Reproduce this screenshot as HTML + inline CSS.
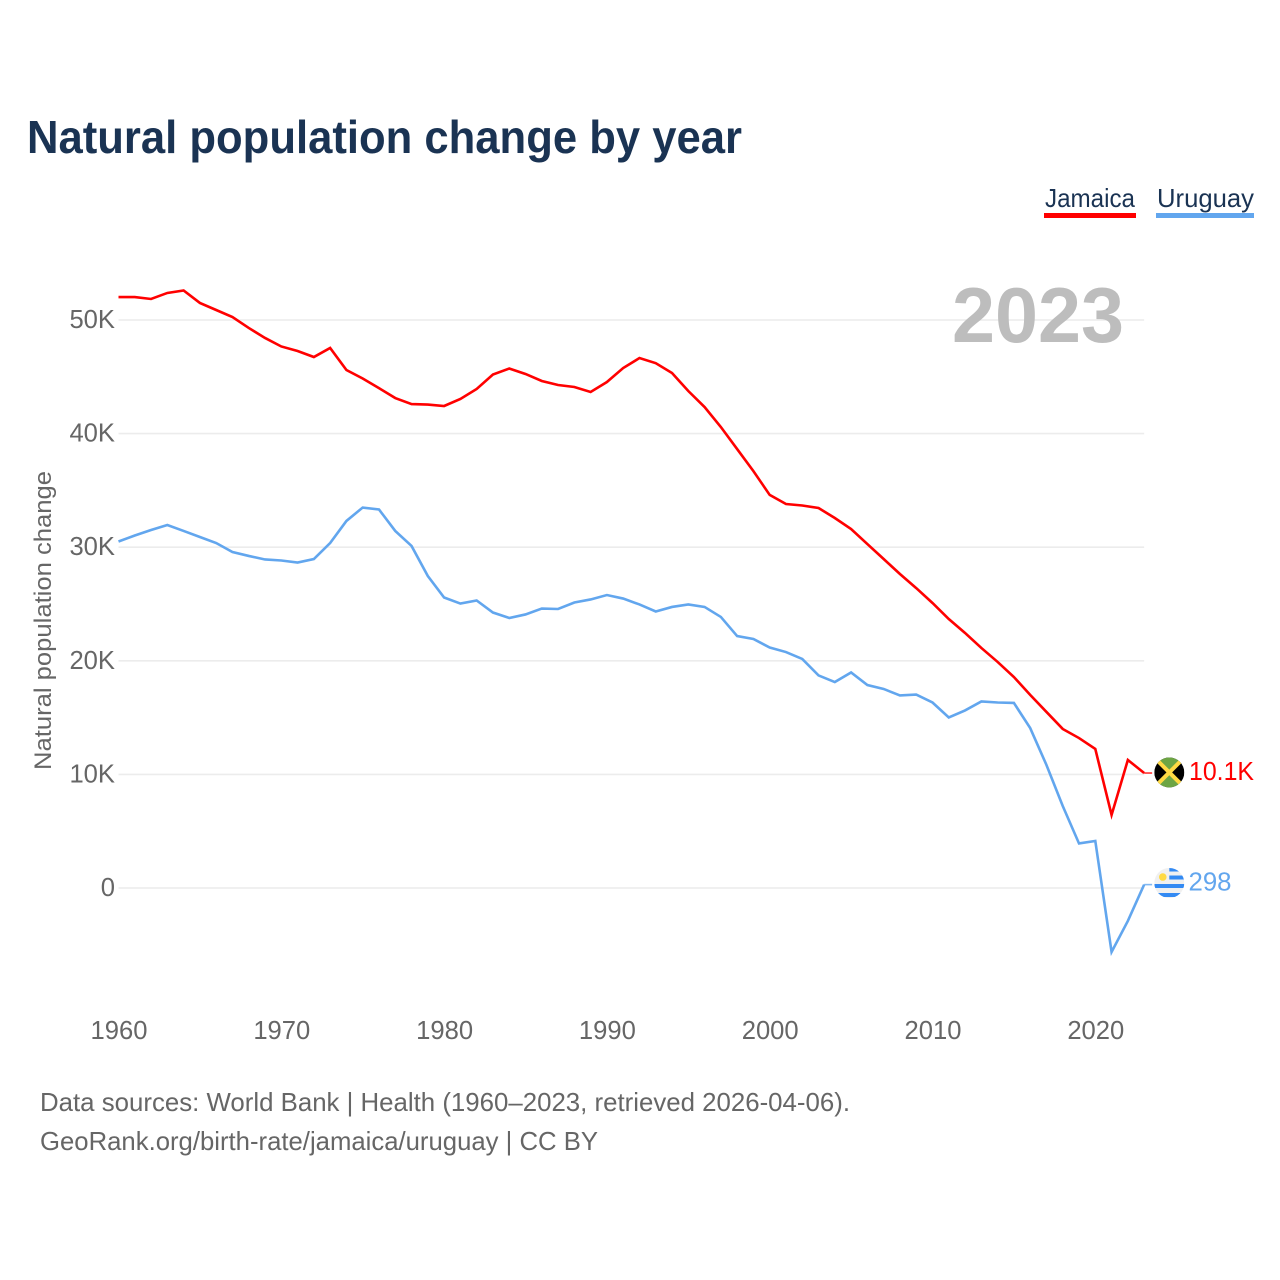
<!DOCTYPE html>
<html lang="en">
<head>
<meta charset="utf-8">
<title>Natural population change by year</title>
<style>
html,body{margin:0;padding:0;background:#fff;width:1280px;height:1280px;overflow:hidden}
svg{display:block}
text{font-family:"Liberation Sans",sans-serif}
.tick{font-size:25.6px;fill:#666}
.foot{font-size:26px;fill:#666}
.leg{font-size:26px;fill:#1a3353}
</style>
</head>
<body>
<svg id="chart" xmlns="http://www.w3.org/2000/svg" width="1280" height="1280" viewBox="0 0 1280 1280">
  <defs>
    <clipPath id="flag-clip"><circle cx="0" cy="0" r="15"/></clipPath>
  </defs>
  <text x="27" y="153" font-size="46" font-weight="700" fill="#1a3353" textLength="715" lengthAdjust="spacingAndGlyphs">Natural population change by year</text>

  <g>
    <g>
      <text class="leg" x="1045" y="207" textLength="90" lengthAdjust="spacingAndGlyphs">Jamaica</text>
      <rect x="1044" y="213" width="92" height="5" fill="#ff0000"/>
    </g>
    <g>
      <text class="leg" x="1157" y="207" textLength="97" lengthAdjust="spacingAndGlyphs">Uruguay</text>
      <rect x="1156" y="213" width="98" height="5" fill="#62a6ee"/>
    </g>
  </g>

  <g id="grid"></g>
  <g id="yticks"></g>
  <g id="xticks"></g>

  <text x="952" y="342" font-size="78" font-weight="700" fill="#bdbdbd" textLength="172" lengthAdjust="spacingAndGlyphs">2023</text>

  <text transform="translate(51,770) rotate(-90)" font-size="24" fill="#666" textLength="299" lengthAdjust="spacingAndGlyphs">Natural population change</text>

  <g id="series"></g>
  <g id="ends"></g>

  <text class="foot" x="40" y="1111" textLength="810" lengthAdjust="spacingAndGlyphs">Data sources: World Bank | Health (1960–2023, retrieved 2026-04-06).</text>
  <text class="foot" x="40" y="1150" textLength="558" lengthAdjust="spacingAndGlyphs">GeoRank.org/birth-rate/jamaica/uruguay | CC BY</text>
</svg>
<script>
const years = [1960,1961,1962,1963,1964,1965,1966,1967,1968,1969,1970,1971,1972,1973,1974,1975,1976,1977,1978,1979,1980,1981,1982,1983,1984,1985,1986,1987,1988,1989,1990,1991,1992,1993,1994,1995,1996,1997,1998,1999,2000,2001,2002,2003,2004,2005,2006,2007,2008,2009,2010,2011,2012,2013,2014,2015,2016,2017,2018,2019,2020,2021,2022,2023];
const jamaicaValues = [52.02,52.02,51.85,52.38,52.6,51.5,50.88,50.26,49.3,48.42,47.67,47.27,46.74,47.54,45.6,44.85,44.0,43.13,42.6,42.56,42.43,43.05,43.93,45.2,45.73,45.25,44.63,44.28,44.1,43.66,44.54,45.77,46.65,46.2,45.33,43.75,42.34,40.58,38.64,36.7,34.6,33.8,33.67,33.45,32.57,31.6,30.28,28.96,27.64,26.4,25.09,23.68,22.45,21.13,19.9,18.57,17.0,15.5,14.0,13.2,12.24,6.43,11.27,10.12];
const uruguayValues = [30.5,31.03,31.51,31.95,31.43,30.9,30.37,29.58,29.23,28.92,28.83,28.65,28.96,30.37,32.31,33.49,33.32,31.43,30.11,27.46,25.57,25.04,25.31,24.25,23.77,24.08,24.6,24.56,25.13,25.4,25.79,25.48,24.96,24.34,24.74,24.96,24.74,23.86,22.18,21.92,21.17,20.77,20.16,18.71,18.13,18.97,17.87,17.52,16.95,17.03,16.33,15.01,15.63,16.42,16.33,16.29,14.08,10.83,7.22,3.92,4.14,-5.63,-2.9,0.298];
const yTickValues = [0,10,20,30,40,50];
const yTickLabels = ["0","10K","20K","30K","40K","50K"];
const xTickValues = [1960,1970,1980,1990,2000,2010,2020];
const jamaicaEndLabel = "10.1K";
const uruguayEndLabel = "298";

const NS = "http://www.w3.org/2000/svg";
function xScale(year){ return 118.5 + (year - 1960) * 16.28; }
function yScale(k){ return 888 - k * 11.36; }
function make(tag, parent, attrs){
  const el = document.createElementNS(NS, tag);
  for (const k in attrs) el.setAttribute(k, attrs[k]);
  parent.appendChild(el);
  return el;
}
const grid = document.getElementById('grid');
const yticks = document.getElementById('yticks');
const xticks = document.getElementById('xticks');
const seriesG = document.getElementById('series');
const ends = document.getElementById('ends');

yTickValues.forEach(function(v, i){
  const line = make('line', grid, {x1:xScale(1960), x2:xScale(2023), y1:yScale(v), y2:yScale(v), stroke:'#ececec', 'stroke-width':1.6});
  
  
  const t = make('text', yticks, {x:115, y:yScale(v)+8, 'text-anchor':'end', 'class':'tick'});
  
  
  t.textContent = yTickLabels[i];
});
xTickValues.forEach(function(y){
  const t = make('text', xticks, {x:xScale(y)+0.5, y:1039, 'text-anchor':'middle', 'class':'tick'});
  
  
  t.textContent = String(y);
});

function drawSeries(values, color){
  const pts = values.map(function(v, i){ return xScale(years[i]).toFixed(2) + ',' + yScale(v).toFixed(2); }).join(' ');
  const line = make('polyline', seriesG, {points:pts, fill:'none', stroke:color, 'stroke-width':2.6, 'stroke-linejoin':'miter'});
  
  
  const last = values[values.length - 1];
  const lastX = xScale(years[years.length - 1]);
  const stub = make('line', seriesG, {x1:lastX, x2:lastX + 8, y1:yScale(last), y2:yScale(last), stroke:color, 'stroke-width':1.6, opacity:0.8});
  
  
}
drawSeries(jamaicaValues, '#ff0000');
drawSeries(uruguayValues, '#62a6ee');

function endGroup(value, lift, name){
  const g = make('g', ends, {transform:'translate(1169.3,' + (yScale(value) - lift).toFixed(2) + ')'});
  
  
  return g;
}

/* Jamaica flag + label */
const jg = endGroup(jamaicaValues[jamaicaValues.length - 1], 0.6, 'jamaica-end-marker');
const jf = make('g', jg, {'clip-path':'url(#flag-clip)'});


make('rect', jf, {x:-15, y:-15, width:30, height:30, fill:'#000'});
make('polygon', jf, {points:'-15,-15 15,-15 0,0', fill:'#6da544'});
make('polygon', jf, {points:'-15,15 15,15 0,0', fill:'#6da544'});
make('line', jf, {x1:-15, y1:-15, x2:15, y2:15, stroke:'#ffda44', 'stroke-width':4});
make('line', jf, {x1:15, y1:-15, x2:-15, y2:15, stroke:'#ffda44', 'stroke-width':4});
const jt = make('text', jg, {x:19.7, y:7.6, 'font-size':'25.5', fill:'#ff0000', textLength:65, lengthAdjust:'spacingAndGlyphs'});


jt.textContent = jamaicaEndLabel;

/* Uruguay flag + label */
const ug = endGroup(uruguayValues[uruguayValues.length - 1], 1.6, 'uruguay-end-marker');
const uf = make('g', ug, {'clip-path':'url(#flag-clip)'});


make('rect', uf, {x:-15, y:-15, width:30, height:30, fill:'#f0f0f0'});
make('rect', uf, {x:0, y:-15, width:15, height:3.5, fill:'#338af3'});
make('rect', uf, {x:0, y:-7.5, width:15, height:4, fill:'#338af3'});
make('rect', uf, {x:-15, y:1, width:30, height:4, fill:'#338af3'});
make('rect', uf, {x:-15, y:10, width:30, height:4, fill:'#338af3'});
make('circle', uf, {cx:-6.5, cy:-6, r:3.8, fill:'#ffda44'});
const ut = make('text', ug, {x:19.2, y:7.6, 'font-size':'25.5', fill:'#62a6ee', textLength:43, lengthAdjust:'spacingAndGlyphs'});


ut.textContent = uruguayEndLabel;
</script>
</body>
</html>
